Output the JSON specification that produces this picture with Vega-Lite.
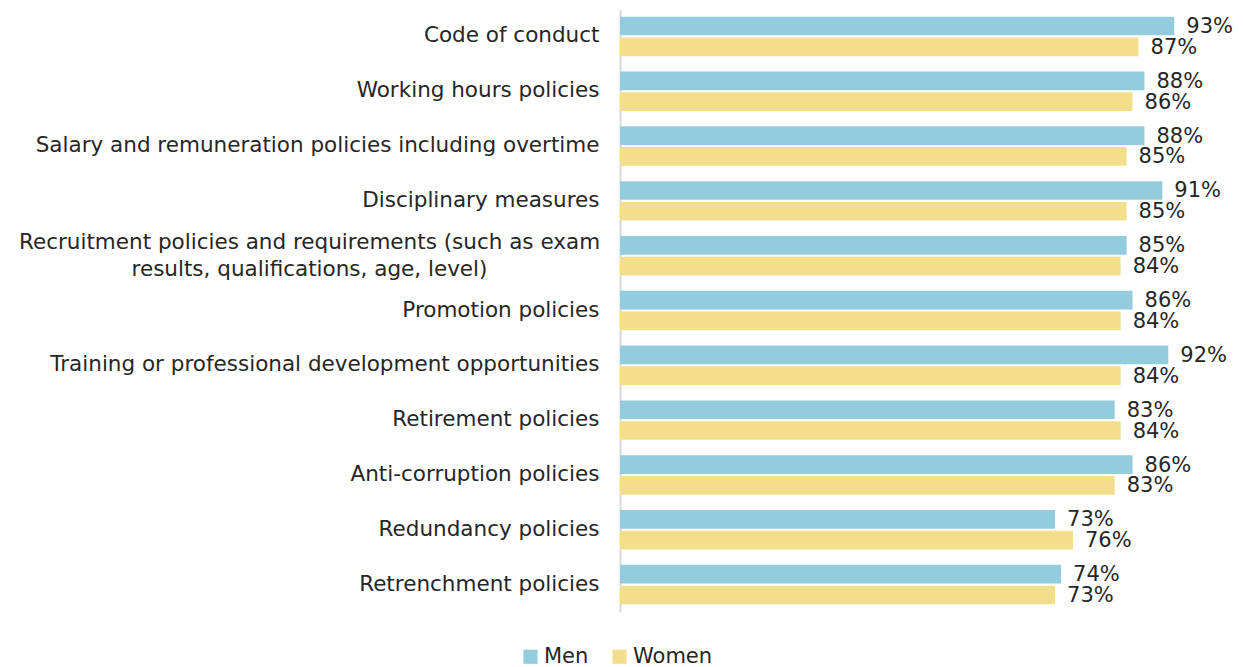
{
  "$schema": "https://vega.github.io/schema/vega-lite/v6.json",
  "width": 596,
  "height": 603,
  "autosize": {"type": "none"},
  "padding": {"left": 620, "top": 9, "right": 27, "bottom": 55},
  "background": "white",
  "config": {
    "view": {"stroke": null},
    "font": "DejaVu Sans"
  },
  "data": {
    "values": [
      {"item": "Code of conduct", "gender": "Men", "value": 0.93},
      {"item": "Code of conduct", "gender": "Women", "value": 0.87},
      {"item": "Working hours policies", "gender": "Men", "value": 0.88},
      {"item": "Working hours policies", "gender": "Women", "value": 0.86},
      {"item": "Salary and remuneration policies including overtime", "gender": "Men", "value": 0.88},
      {"item": "Salary and remuneration policies including overtime", "gender": "Women", "value": 0.85},
      {"item": "Disciplinary measures", "gender": "Men", "value": 0.91},
      {"item": "Disciplinary measures", "gender": "Women", "value": 0.85},
      {"item": "Recruitment policies and requirements (such as exam|results, qualifications, age, level)", "gender": "Men", "value": 0.85},
      {"item": "Recruitment policies and requirements (such as exam|results, qualifications, age, level)", "gender": "Women", "value": 0.84},
      {"item": "Promotion policies", "gender": "Men", "value": 0.86},
      {"item": "Promotion policies", "gender": "Women", "value": 0.84},
      {"item": "Training or professional development opportunities", "gender": "Men", "value": 0.92},
      {"item": "Training or professional development opportunities", "gender": "Women", "value": 0.84},
      {"item": "Retirement policies", "gender": "Men", "value": 0.83},
      {"item": "Retirement policies", "gender": "Women", "value": 0.84},
      {"item": "Anti-corruption policies", "gender": "Men", "value": 0.86},
      {"item": "Anti-corruption policies", "gender": "Women", "value": 0.83},
      {"item": "Redundancy policies", "gender": "Men", "value": 0.73},
      {"item": "Redundancy policies", "gender": "Women", "value": 0.76},
      {"item": "Retrenchment policies", "gender": "Men", "value": 0.74},
      {"item": "Retrenchment policies", "gender": "Women", "value": 0.73}
    ]
  },
  "encoding": {
    "y": {
      "field": "item",
      "type": "nominal",
      "sort": null,
      "scale": {"paddingInner": 0.28, "paddingOuter": 0.14},
      "axis": {
        "title": null,
        "ticks": false,
        "domainColor": "#d9d9d9",
        "domainWidth": 2,
        "labelFontSize": 21.5,
        "labelColor": "#262626",
        "labelLimit": 0,
        "labelLineHeight": 27,
        "labelExpr": "indexof(datum.label, '|') > 0 ? split(datum.label, '|') : datum.label",
        "labelAlign": {"condition": {"test": "indexof(datum.value, '|') > 0", "value": "center"}, "value": "right"},
        "labelPadding": {"condition": {"test": "indexof(datum.value, '|') > 0", "value": 311}, "value": 21},
        "labelOffset": {"condition": {"test": "indexof(datum.value, '|') > 0", "value": -13}, "value": 0}
      }
    },
    "yOffset": {"field": "gender", "type": "nominal", "scale": {"paddingInner": 0.1}},
    "x": {
      "field": "value",
      "type": "quantitative",
      "scale": {"domain": [0, 1]},
      "axis": null
    }
  },
  "layer": [
    {
      "mark": {"type": "bar"},
      "encoding": {
        "color": {
          "field": "gender",
          "type": "nominal",
          "scale": {"domain": ["Men", "Women"], "range": ["#93CDDD", "#F3DF8B"]},
          "legend": {
            "orient": "none",
            "legendX": -100,
            "legendY": 637,
            "direction": "horizontal",
            "title": null,
            "symbolType": "square",
            "symbolSize": 200,
            "symbolStrokeWidth": 0,
            "labelFontSize": 21,
            "labelColor": "#262626",
            "columnPadding": 20,
            "labelOffset": 3
          }
        }
      }
    },
    {
      "mark": {"type": "text", "align": "left", "dx": 12, "dy": 1, "fontSize": 21, "color": "#262626"},
      "encoding": {
        "text": {"field": "value", "type": "quantitative", "format": ".0%"}
      }
    }
  ]
}
